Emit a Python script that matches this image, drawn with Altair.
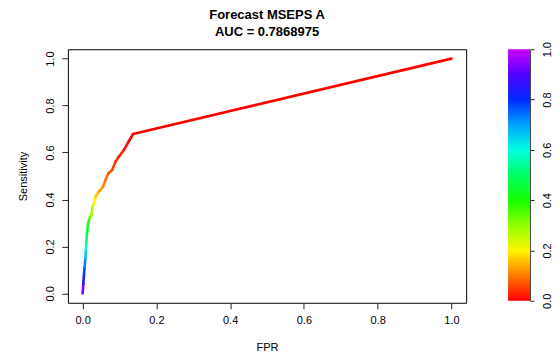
import altair as alt
import pandas as pd
import colorsys

# ROC curve vertices
fpr = [0.0, 0.002, 0.0035, 0.0054, 0.0073, 0.0089, 0.010, 0.0117, 0.0144, 0.018,
       0.0236, 0.027, 0.031, 0.035, 0.044, 0.055, 0.062, 0.070, 0.080, 0.089,
       0.098, 0.112, 0.125, 0.137, 1.0]
tpr = [0.0, 0.041, 0.077, 0.112, 0.148, 0.184, 0.219, 0.255, 0.291, 0.319,
       0.333, 0.369, 0.383, 0.412, 0.433, 0.454, 0.483, 0.512, 0.526, 0.561,
       0.582, 0.611, 0.647, 0.679, 1.0]
cutoff = [1.0, 0.88, 0.80, 0.76, 0.70, 0.62, 0.55, 0.47, 0.42, 0.35,
          0.30, 0.27, 0.22, 0.18, 0.14, 0.12, 0.10, 0.08, 0.06, 0.04,
          0.03, 0.02, 0.01, 0.0, 0.0]
axis_ticks = [0.0, 0.2, 0.4, 0.6, 0.8, 1.0]
title_lines = ["Forecast MSEPS A", "AUC = 0.7868975"]

FONT = "Liberation Sans"

stops = [i / 10 for i in range(11)]
colors = ['#%02x%02x%02x' % tuple(int(round(c * 255)) for c in colorsys.hsv_to_rgb(0.8 * s, 1, 1))
          for s in stops]
cscale = alt.Scale(domain=stops, range=colors, interpolate='rgb')

seg = pd.DataFrame({
    'x': fpr[:-1], 'y': tpr[:-1], 'x2': fpr[1:], 'y2': tpr[1:],
    'c': [(a + b) / 2 for a, b in zip(cutoff[:-1], cutoff[1:])],
})

axis_common = dict(values=axis_ticks, format='.1f', grid=False,
                   tickColor='#222', labelFont=FONT, labelFontSize=11,
                   labelColor='black', titleFont=FONT, titleFontSize=11,
                   titleFontWeight='normal', titleColor='black')

main = alt.Chart(seg).mark_rule(strokeWidth=2.6, strokeCap='round').encode(
    x=alt.X('x:Q', scale=alt.Scale(domain=[-0.04, 1.04], nice=False, zero=False),
            axis=alt.Axis(title='FPR', tickSize=6, labelPadding=6, titlePadding=16,
                          domain=False, **axis_common)),
    y=alt.Y('y:Q', scale=alt.Scale(domain=[-0.04, 1.04], nice=False, zero=False),
            axis=alt.Axis(title='Sensitivity', labelAngle=-90, labelAlign='center',
                          labelBaseline='bottom', tickSize=6, labelPadding=6,
                          titlePadding=16, domain=False, **axis_common)),
    x2='x2:Q', y2='y2:Q',
    color=alt.Color('c:Q', scale=cscale, legend=None),
).properties(
    width=399, height=254,
    view=alt.ViewBackground(stroke='black', strokeWidth=1),
    title=alt.TitleParams(title_lines, font=FONT, fontSize=13, fontWeight='bold',
                          anchor='middle', color='black', lineHeight=17, offset=10),
)

n = 100
cb_df = pd.DataFrame({
    'v': [i / n for i in range(n)],
    'v2': [min(1.0, (i + 1.3) / n) for i in range(n)],
    'c': [(i + 0.5) / n for i in range(n)],
})

colorbar = alt.Chart(cb_df).mark_rect(strokeWidth=0).encode(
    x=alt.value(0), x2=alt.value(22),
    y=alt.Y('v:Q', scale=alt.Scale(domain=[0, 1], nice=False, zero=False),
            axis=alt.Axis(orient='right', title=None, labelAngle=-90, labelAlign='center',
                          labelBaseline='top', tickSize=4, labelPadding=7, domain=True,
                          domainColor='#444', **axis_common)),
    y2='v2:Q',
    color=alt.Color('c:Q', scale=cscale, legend=None),
).properties(width=22, height=252)

chart = alt.hconcat(main, colorbar, spacing=41).properties(
    padding={"left": 9, "top": 0, "right": 0, "bottom": 0}
).configure_view(strokeWidth=0)

chart.save("out.html", embed_options={"renderer": "svg", "actions": False})
